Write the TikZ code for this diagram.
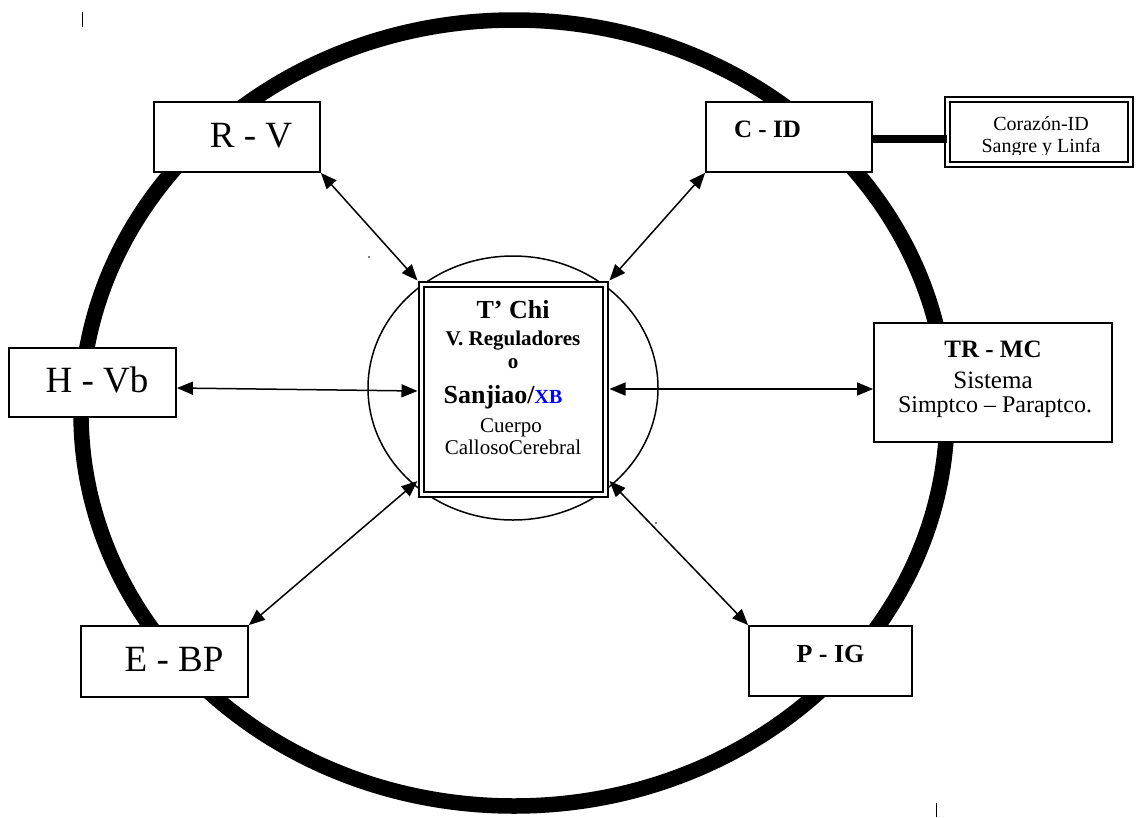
\documentclass[tikz,border=0pt]{standalone}
\usepackage{fontspec}
\setmainfont{Liberation Serif}
\usetikzlibrary{arrows.meta}
\tikzset{
  bx/.style={draw, line width=1.8pt, fill=white, inner sep=0pt},
  dbx/.style={draw, line width=1.8pt, double, double distance=3pt, fill=white, inner sep=0pt},
  link/.style={line width=1.5pt, {Triangle[length=16pt,width=13pt]}-{Triangle[length=16pt,width=13pt]}},
  lbl/.style={anchor=base, inner sep=0pt},
  big/.style={font=\fontsize{37}{40}\selectfont},
  bold25/.style={font=\fontsize{25}{28}\selectfont\bfseries},
}
\begin{document}
\begin{tikzpicture}[x=1pt,y=-1pt]
\useasboundingbox (0,0) rectangle (1137,817);
\fill[white] (0,0) rectangle (1137,817);
% outer ring and inner circle
\draw[line width=15.5pt] (514,413) ellipse [x radius=433, y radius=393];
\draw[line width=1.5pt] (513,388) ellipse [x radius=145, y radius=132];
% small marks
\draw[line width=1pt] (82,12) -- (82,27);
\draw[line width=1pt] (936,803) -- (936,817);
\fill (369,257) circle (0.8pt);
\fill (656,523) circle (0.8pt);
% boxes
\node[bx, minimum width=166pt, minimum height=70pt] (rv) at (237,137) {};
\node[bx, minimum width=166pt, minimum height=70pt] (cid) at (789,137) {};
\node[bx, minimum width=167pt, minimum height=69pt] (hvb) at (92.5,382.5) {};
\node[bx, minimum width=238pt, minimum height=119pt] (trmc) at (993,382.5) {};
\node[bx, minimum width=167pt, minimum height=71pt] (ebp) at (164.5,661.5) {};
\node[bx, minimum width=163pt, minimum height=70pt] (pig) at (830.5,661) {};
\node[dbx, minimum width=183pt, minimum height=65pt] (cor) at (1039,132) {};
\node[dbx, minimum width=184pt, minimum height=210pt, outer sep=4pt] (cb) at (513.5,389.5) {};
% heights used by the connectors
\coordinate (yh1) at (0,388);
\coordinate (yh2) at (0,391);
\coordinate (ytr) at (0,389);
\coordinate (ylo) at (0,481);
\coordinate (ylink) at (0,139);
% thick link C-ID to Corazon
\draw[line width=8pt] (cid.east |- ylink) -- (cor.west |- ylink);
% arrows
\draw[link] (rv.south east) -- (cb.north west);
\draw[link] (cid.south west) -- (cb.north east);
\draw[link] (hvb.east |- yh1) -- (cb.west |- yh2);
\draw[link] (cb.east |- ytr) -- (trmc.west |- ytr);
\draw[link] (ebp.north east) -- (cb.west |- ylo);
\draw[link] (cb.east |- ylo) -- (pig.north west);
% texts
\node[lbl, big] (trv) at (251,147) {R - V};
\node[lbl, big] (thvb) at (97,392) {H - Vb};
\node[lbl, big] (tebp) at (174,671) {E - BP};
\node[lbl, bold25] (tcid) at (767.5,137) {C - ID};
\node[lbl, font=\fontsize{26}{28}\selectfont\bfseries] (tpig) at (830.5,662) {P - IG};
\node[lbl, bold25] (ttr1) at (993,357) {TR - MC};
\node[lbl, font=\fontsize{25}{28}\selectfont] (ttr2) at (993,388) {Sistema};
\node[lbl, font=\fontsize{24}{28}\selectfont] (ttr3) at (995,412) {Simptco – Paraptco.};
\node[lbl, font=\fontsize{20}{24}\selectfont] (tcor1) at (1041,130) {Corazón-ID};
\begin{scope}
\clip (944,96) rectangle (1134,154);
\node[lbl, font=\fontsize{20}{24}\selectfont] (tcor2) at (1041,152) {Sangre y Linfa};
\end{scope}
\node[lbl, font=\fontsize{26}{28}\selectfont\bfseries] (tc1) at (513,318) {T’ Chi};
\node[lbl, font=\fontsize{21}{24}\selectfont\bfseries] (tc2) at (513,345) {V. Reguladores};
\node[lbl, font=\fontsize{21}{24}\selectfont\bfseries] (tc3) at (513,368) {o};
\node[lbl, font=\fontsize{26}{28}\selectfont\bfseries] (tc4) at (503,403) {Sanjiao/{\color{blue}\fontsize{20}{24}\selectfont XB}};
\node[lbl, font=\fontsize{21}{24}\selectfont] (tc5) at (511,432) {Cuerpo};
\node[lbl, font=\fontsize{21}{24}\selectfont] (tc6) at (513,454) {CallosoCerebral};
\end{tikzpicture}
\end{document}
